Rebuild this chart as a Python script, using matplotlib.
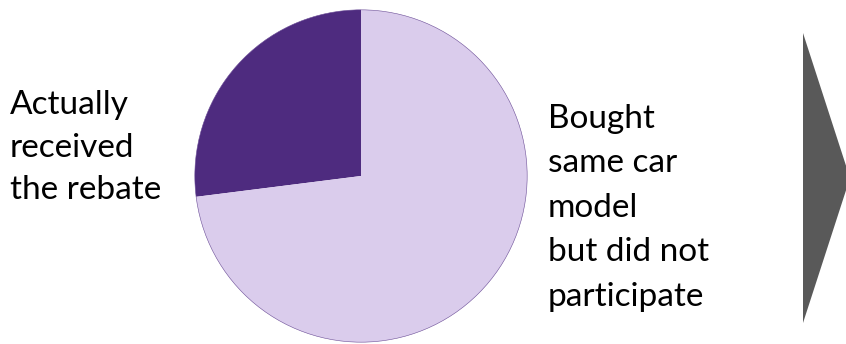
# Pie: share of buyers who actually received the rebate
import matplotlib.pyplot as plt
from matplotlib.patches import Polygon

labels = ['Actually\nreceived\nthe rebate', 'Bought\nsame car\nmodel\nbut did not\nparticipate']
shares = [27, 73]
colors = ['#4E2B7F', '#DACCEC']

W, H = 846, 344
fig = plt.figure(figsize=(W / 100, H / 100), dpi=100)

# pie axes (pixel box)
cx, cy, r = 361, 176, 167
ax = fig.add_axes([(cx - r) / W, (H - cy - r) / H, 2 * r / W, 2 * r / H])
ax.pie(shares, colors=colors, startangle=90, counterclock=True,
       wedgeprops=dict(edgecolor='none'))
ax.add_patch(plt.Circle((0, 0), 1, fill=False, edgecolor='#6A4C96', lw=0.4))
ax.set_xlim(-1.005, 1.005)
ax.set_ylim(-1.005, 1.005)
ax.set_aspect('equal')
ax.axis('off')

# overlay for labels and the arrow, in pixel coordinates
ov = fig.add_axes([0, 0, 1, 1], zorder=-1)
ov.set_xlim(0, W)
ov.set_ylim(H, 0)
ov.axis('off')

font = dict(family=['Lato', 'DejaVu Sans'], fontsize=24, color='black')
ov.text(10, 90, labels[0], va='top', ha='left', linespacing=1.53, **font)
ov.text(548, 104, labels[1], va='top', ha='left', linespacing=1.6, **font)

ov.add_patch(Polygon([(803, 33), (850, 178), (803, 323)], closed=True,
                     facecolor='#595959', edgecolor='none'))

fig.savefig('out.png', dpi=100)
